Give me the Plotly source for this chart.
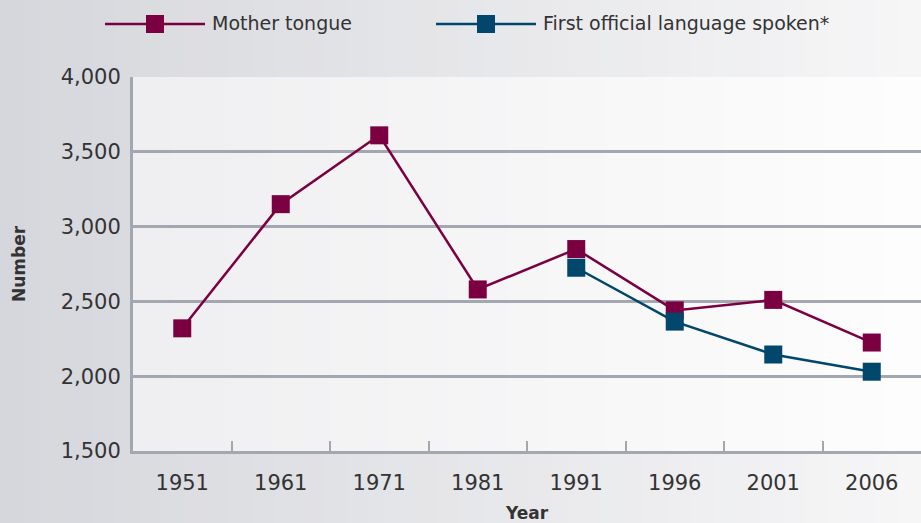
import plotly.graph_objects as go

years = ["1951", "1961", "1971", "1981", "1991", "1996", "2001", "2006"]
mother_tongue = [2320, 3150, 3610, 2580, 2850, 2440, 2510, 2225]
first_official = [None, None, None, None, 2725, 2365, 2145, 2030]
series_names = ["Mother tongue", "First official language spoken*"]

maroon = "#7b0041"
navy = "#00476b"
grid = "#a3a7b0"

W, H = 921, 523
L, R, T, B = 133, 0, 77, 72
pw, ph = W - L - R, H - T - B


def px_x(v):
    return (v - L) / pw


def px_y(v):
    return (H - B - v) / ph


fig = go.Figure()
fig.add_trace(go.Scatter(x=years, y=mother_tongue, name=series_names[0],
                         mode="lines+markers", showlegend=False,
                         line=dict(color=maroon, width=2.5),
                         marker=dict(symbol="square", size=18, color=maroon)))
fig.add_trace(go.Scatter(x=years, y=first_official, name=series_names[1],
                         mode="lines+markers", showlegend=False,
                         line=dict(color=navy, width=2.5),
                         marker=dict(symbol="square", size=18, color=navy)))


def blend(c1, c2, t):
    return "rgb(%d,%d,%d)" % tuple(round(a + (b - a) * t) for a, b in zip(c1, c2))


# fake horizontal gradients: whole page first, then the plot area on top
n = 40
x_lo, x_hi = px_x(0), px_x(W)
for i in range(n):
    t = i / (n - 1)
    fig.add_shape(type="rect", xref="paper", yref="paper", layer="below",
                  x0=x_lo + (x_hi - x_lo) * i / n,
                  x1=x_lo + (x_hi - x_lo) * (i + 1) / n + 0.01,
                  y0=px_y(H), y1=px_y(0), line_width=0,
                  fillcolor=blend((214, 215, 220), (246, 246, 247), t))
for i in range(n):
    t = i / (n - 1)
    fig.add_shape(type="rect", xref="paper", yref="paper", layer="below",
                  x0=i / n, x1=min(1, (i + 1) / n + 0.005), y0=0, y1=1, line_width=0,
                  fillcolor=blend((239, 239, 241), (253, 253, 253), t))

# hand-made legend (long line with square in the middle)
for name, color, x_start in zip(series_names, [maroon, navy], [105, 436]):
    fig.add_shape(type="line", xref="paper", yref="paper",
                  x0=px_x(x_start), x1=px_x(x_start + 100), y0=px_y(24), y1=px_y(24),
                  line=dict(color=color, width=2.5))
    fig.add_shape(type="rect", xref="paper", yref="paper",
                  x0=px_x(x_start + 41), x1=px_x(x_start + 59),
                  y0=px_y(33), y1=px_y(15), line_width=0, fillcolor=color)
    fig.add_annotation(text=name, xref="paper", yref="paper", showarrow=False,
                       x=px_x(x_start + 105), y=px_y(23), xanchor="left", yanchor="middle",
                       font=dict(size=19, color="#333333"))

fig.update_layout(
    width=W, height=H,
    margin=dict(l=L, r=R, t=T, b=B),
    paper_bgcolor="#e4e5e8",
    plot_bgcolor="rgba(0,0,0,0)",
    font=dict(family="DejaVu Sans", color="#333333", size=19),
    showlegend=False,
)

fig.update_xaxes(type="category", range=[-0.5, 7.5], showline=True, linecolor=grid,
                 linewidth=3, ticks="inside", tickson="boundaries", ticklen=10,
                 tickwidth=2, tickcolor=grid, showgrid=False, ticklabelstandoff=11,
                 tickfont=dict(size=21),
                 title=dict(text="<b>Year</b>", font=dict(size=17), standoff=15))
fig.update_yaxes(range=[1500, 4000], dtick=500, tickformat=",", showline=True,
                 linecolor=grid, linewidth=3, showgrid=True, gridcolor=grid,
                 gridwidth=2.5, zeroline=False, ticks="", ticklabelstandoff=5,
                 tickfont=dict(size=21),
                 title=dict(text="<b>Number</b>", font=dict(size=17), standoff=31))

fig.write_html("out.html", config={"displayModeBar": False},
               post_script="document.body.style.margin='0';")
